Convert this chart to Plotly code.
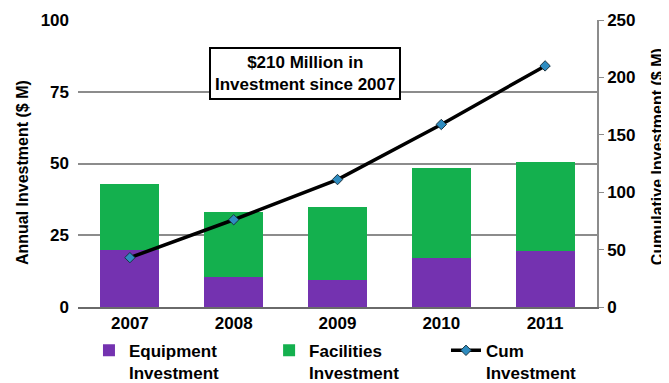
import plotly.graph_objects as go

years = ["2007", "2008", "2009", "2010", "2011"]
equipment = [20, 10.5, 9.5, 17, 19.5]
facilities = [23, 22.5, 25.5, 31.5, 31]
cumulative = [43, 76, 111, 159, 210]

FONT = "Liberation Sans, Arial, sans-serif"
PURPLE = "#7432B0"
GREEN = "#14B04E"

fig = go.Figure()
fig.add_trace(go.Bar(x=years, y=equipment, name="<b>Equipment<br>Investment</b>",
                     legend="legend",
                     marker=dict(color=PURPLE, line=dict(width=0))))
fig.add_trace(go.Bar(x=years, y=facilities, name="<b>Facilities<br>Investment</b>",
                     legend="legend2",
                     marker=dict(color=GREEN, line=dict(width=0))))
fig.add_trace(go.Scatter(x=years, y=cumulative, name="<b>Cum<br>Investment</b>", yaxis="y2",
                         legend="legend3", mode="lines+markers",
                         line=dict(color="black", width=3.5),
                         marker=dict(symbol="diamond", size=8, color="#2E8CC0",
                                     line=dict(color="#1B3440", width=1))))

def leg(x):
    return dict(orientation="v", xref="container", yref="container",
                x=x, y=0.134, xanchor="left", yanchor="top", valign="top",
                font=dict(size=17, weight="bold"), itemwidth=30, bgcolor="rgba(0,0,0,0)")

fig.update_layout(
    width=661, height=375,
    margin=dict(l=70, r=72, t=12, b=76, autoexpand=False),
    paper_bgcolor="white", plot_bgcolor="white",
    barmode="stack", bargap=0.43,
    font=dict(family=FONT, size=17, color="black", weight="bold"),
    showlegend=True,
    legend=leg(0.1225), legend2=leg(0.395), legend3=leg(0.6626),
    xaxis=dict(showgrid=False, showline=True, linecolor="#6a6a6a", linewidth=2,
               ticks="", tickfont=dict(size=17, weight="bold")),
    yaxis=dict(range=[0, 100], dtick=25, showgrid=True, gridcolor="#8c8c8c", gridwidth=1.5,
               showline=False, zeroline=False, ticks="", ticklabelstandoff=8,
               tickfont=dict(size=17, weight="bold")),
    yaxis2=dict(range=[0, 250], dtick=50, overlaying="y", side="right", showgrid=False,
                showline=True, linecolor="#8c8c8c", linewidth=1.5, ticks="outside",
                ticklen=5, tickcolor="#8c8c8c", zeroline=False,
                tickfont=dict(size=17, weight="bold")),
    annotations=[
        dict(x=0.437, y=0.815, xref="paper", yref="paper",
             xanchor="center", yanchor="middle",
             text="<b>$210 Million in<br>Investment since 2007</b>",
             showarrow=False, font=dict(size=17, color="black"),
             bgcolor="white", bordercolor="black", borderwidth=2, borderpad=4),
        dict(x=-0.1079, y=0.470, xref="paper", yref="paper",
             xanchor="center", yanchor="middle", textangle=-90,
             text="<b>Annual Investment ($ M)</b>", showarrow=False,
             font=dict(size=16, color="black")),
        dict(x=1.118, y=0.523, xref="paper", yref="paper",
             xanchor="center", yanchor="middle", textangle=-90,
             text="<b>Cumulative Investment ($ M)</b>", showarrow=False,
             font=dict(size=16, color="black")),
    ],
)

fig.write_html("out.html")
